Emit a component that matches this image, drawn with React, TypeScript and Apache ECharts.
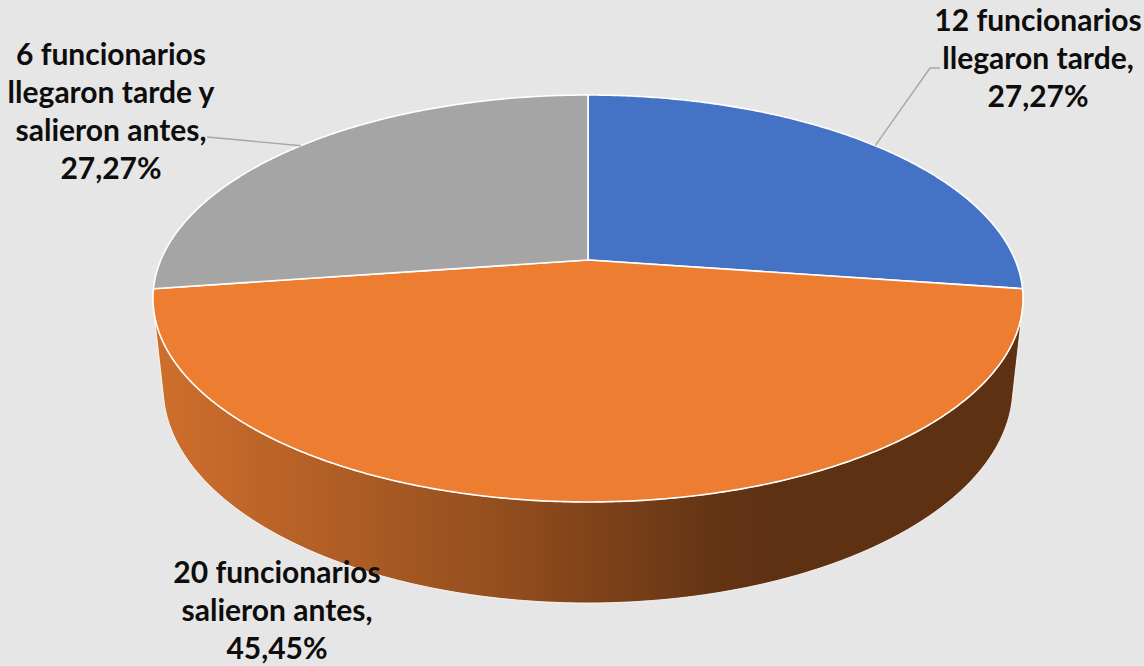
import React, { useEffect, useRef } from "react";
import * as echarts from "echarts";

// ---- data ----
const categories = ["llegaron tarde", "salieron antes", "llegaron tarde y\nsalieron antes"];
const counts = [12, 20, 6];
const percents = [27.27, 45.45, 27.27];

// ---- styles / layout ----
const COLORS = ["#4472c4", "#ed7d31", "#a5a5a5"];
const LABELS = [
  { x: 1038, y: 57, leader: [[930, 68], [940, 68]] },
  { x: 277, y: 609, leader: null as null | number[][] },
  { x: 111, y: 110, leader: [[207, 137]] },
];

// perspective model of the pie (radius = 1 world unit)
const CX = 588;
const CY = 260;
const FOCAL = 2006;
const DIST = 4.696;
const TILT = (27.34 * Math.PI) / 180;
const THICK = 0.2368;
const SIN_T = Math.sin(TILT);
const COS_T = Math.cos(TILT);
const SIL = (Math.asin(-1 / (DIST * COS_T)) * 180) / Math.PI; // silhouette angle
const VIS_HI = SIL;
const VIS_LO = -180 - SIL;

function proj(phiDeg: number, yw: number, r = 1): number[] {
  const p = (phiDeg * Math.PI) / 180;
  const X = r * Math.cos(p);
  const Z = -r * Math.sin(p);
  const xc = X;
  const yc = yw * COS_T - Z * SIN_T;
  const zc = DIST - (yw * SIN_T + Z * COS_T);
  return [CX + (FOCAL * xc) / zc, CY - (FOCAL * yc) / zc];
}

function arc(from: number, to: number, yw: number): number[][] {
  const n = Math.max(2, Math.ceil(Math.abs(to - from) / 0.5));
  const out: number[][] = [];
  for (let k = 0; k <= n; k++) out.push(proj(from + ((to - from) * k) / n, yw));
  return out;
}

function fmtPct(v: number) {
  return v.toFixed(2).replace(".", ",") + "%";
}

export default function App() {
  const ref = useRef<HTMLDivElement>(null);
  useEffect(() => {
    document.body.style.margin = "0";
    if (!ref.current) return;
    const chart = echarts.init(ref.current, undefined, { renderer: "svg" });
    const total = percents.reduce((a, b) => a + b, 0);

    const renderItem = (params: any, api: any) => {
      const i = params.dataIndex;
      let cum = 0;
      for (let j = 0; j < i; j++) cum += percents[j];
      const v = api.value(0);
      const a0 = 90 - (360 * cum) / total;
      const a1 = 90 - (360 * (cum + v)) / total;
      const children: any[] = [];

      // top face
      const topPts = [proj(0, 0, 0), ...arc(a0, a1, 0)];
      children.push({
        type: "polygon",
        z2: 10,
        shape: { points: topPts },
        style: { fill: COLORS[i], stroke: "#ffffff", lineWidth: 1.6, lineJoin: "round" },
      });

      // visible outer side
      for (const off of [-360, 0, 360]) {
        const lo = Math.max(a1 + off, VIS_LO);
        const hi = Math.min(a0 + off, VIS_HI);
        if (hi - lo > 0.01) {
          const pts = [...arc(hi, lo, 0), ...arc(lo, hi, -THICK)];
          children.push({
            type: "polygon",
            z2: 5,
            shape: { points: pts },
            style: {
              fill: new echarts.graphic.LinearGradient(0, 0, 1, 0, [
                { offset: 0, color: "#cf6f2d" },
                { offset: 0.375, color: "#98501f" },
                { offset: 0.65, color: "#643414" },
                { offset: 0.72, color: "#5e3113" },
                { offset: 1, color: "#5e3113" },
              ]),
              stroke: "rgba(255,255,255,0.85)",
              lineWidth: 1,
              lineJoin: "round",
            },
          });
        }
      }

      // label
      const lab = LABELS[i];
      const text = `${counts[i]} funcionarios\n${categories[i]},\n${fmtPct(v)}`;
      children.push({
        type: "text",
        z2: 20,
        style: {
          text,
          x: lab.x,
          y: lab.y,
          fill: "#0d0d0d",
          fontFamily: "Lato",
          fontWeight: "bold",
          fontSize: 30,
          lineHeight: 38,
          align: "center",
          verticalAlign: "middle",
        },
      });
      if (lab.leader) {
        const mid = (a0 + a1) / 2;
        children.push({
          type: "polyline",
          z2: 15,
          shape: { points: [proj(mid, 0), ...lab.leader] },
          style: { stroke: "#a6a6a6", lineWidth: 1.4, fill: "none" },
        });
      }
      return { type: "group", children };
    };

    chart.setOption({
      animation: false,
      backgroundColor: "#e7e6e6",
      series: [
        {
          type: "custom",
          coordinateSystem: "none",
          silent: true,
          data: percents.map((p) => [p]),
          renderItem,
        },
      ],
    });
    return () => chart.dispose();
  }, []);
  return <div ref={ref} style={{ width: 1144, height: 666 }} />;
}
